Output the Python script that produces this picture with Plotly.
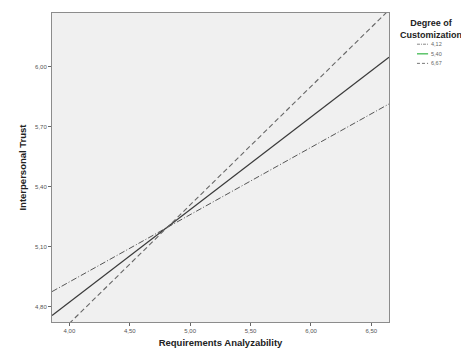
import plotly.graph_objects as go

# Data
levels = ["4,12", "5,40", "6,67"]
x_ends = [3.856, 6.646]
y_low = [4.874, 5.813]      # Degree of Customization 4,12
y_mid = [4.754, 6.047]      # Degree of Customization 5,40
y_high = [4.630, 6.283]     # Degree of Customization 6,67
x_ticks = [4.0, 4.5, 5.0, 5.5, 6.0, 6.5]
y_ticks = [4.8, 5.1, 5.4, 5.7, 6.0]

styles = [
    dict(color="#555555", width=1, dash="6px,2px,1px,2px"),
    dict(color="#3a3a3a", width=1.3, dash="solid"),
    dict(color="#666666", width=1.1, dash="5px,3px"),
]
legend_colors = ["#888888", "#5cc46a", "#777777"]
legend_widths = [1, 1.5, 1]
legend_dashes = ["3px,1px,1px,1px", "solid", "3px,2px"]

fig = go.Figure()
for ys, ln in zip([y_low, y_mid, y_high], styles):
    fig.add_trace(go.Scatter(x=x_ends, y=ys, mode="lines", line=ln,
                             showlegend=False, hoverinfo="skip"))

axis_common = dict(showline=True, linecolor="#8c8c8c", linewidth=1, mirror=True,
                   showgrid=False, zeroline=False, ticks="outside", ticklen=3,
                   tickcolor="#666666", automargin=False,
                   tickfont=dict(size=6, color="#555555", family="Liberation Sans"))

# Legend drawn manually (compact, as in reference)
annotations = [dict(text="<b>Degree of<br>Customization</b>", xref="paper", yref="paper",
                    x=1.125, y=0.99, xanchor="center", yanchor="top", showarrow=False,
                    align="center", font=dict(size=9, color="#222222"))]
shapes = []
leg_y0 = 0.899
leg_dy = 0.031
for i, (lab, lc, lw, ld) in enumerate(zip(levels, legend_colors, legend_widths, legend_dashes)):
    yy = leg_y0 - i * leg_dy
    shapes.append(dict(type="line", xref="paper", yref="paper",
                       x0=1.083, x1=1.116, y0=yy, y1=yy,
                       line=dict(color=lc, width=lw, dash=ld)))
    annotations.append(dict(text=lab, xref="paper", yref="paper", x=1.119, y=yy,
                            xanchor="left", yanchor="middle", showarrow=False,
                            font=dict(size=5.5, color="#666666")))

fig.update_layout(
    width=461, height=344,
    margin=dict(l=44, r=80, t=5, b=30),
    paper_bgcolor="white", plot_bgcolor="#f0f0f0",
    separators=", ",
    font=dict(family="Liberation Sans"),
    showlegend=False,
    xaxis=dict(range=[3.856, 6.646], tickvals=x_ticks, tickformat=".2f",
               title=dict(text="<b>Requirements Analyzability</b>",
                          font=dict(size=9.5, color="#222222"), standoff=6),
               **axis_common),
    yaxis=dict(range=[4.722, 6.268], tickvals=y_ticks, tickformat=".2f",
               title=dict(text="<b>Interpersonal Trust</b>",
                          font=dict(size=9.5, color="#222222"), standoff=6),
               **axis_common),
    annotations=annotations,
    shapes=shapes,
)

fig.write_html("out.html")
